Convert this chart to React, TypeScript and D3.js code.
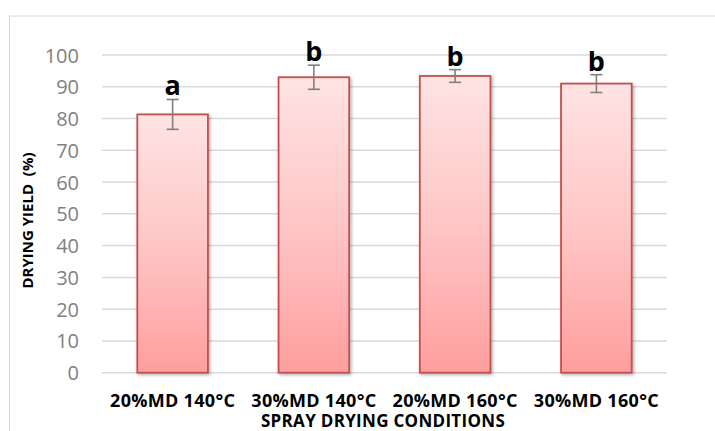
import React from "react";
import * as d3 from "d3";

const categories = ["20%MD 140°C", "30%MD 140°C", "20%MD 160°C", "30%MD 160°C"];
const yieldValues = [81.3, 93.0, 93.4, 91.0];
const errorValues = [4.7, 3.8, 2.0, 2.8];
const groupLetters = ["a", "b", "b", "b"];
const yTicks = [0, 10, 20, 30, 40, 50, 60, 70, 80, 90, 100];

const W = 715;
const H = 431;
const plot = { left: 102, right: 667, top: 55, bottom: 372.7 };
const FONT = "'Open Sans', 'DejaVu Sans', sans-serif";

export default function App() {
  const x = d3
    .scaleBand<string>()
    .domain(categories)
    .range([plot.left, plot.right])
    .paddingInner(0.5)
    .paddingOuter(0.25);
  const y = d3.scaleLinear().domain([0, 100]).range([plot.bottom, plot.top]);

  return (
    <svg
      width={W}
      height={H}
      style={{ position: "absolute", left: 0, top: 0, background: "#fff" }}
    >
      <defs>
        <linearGradient id="barGrad" x1="0" y1="0" x2="0" y2="1">
          <stop offset="0%" stopColor="#ffe3e3" />
          <stop offset="50%" stopColor="#ffc6c6" />
          <stop offset="100%" stopColor="#ff9e9e" />
        </linearGradient>
        <filter id="shadow" x="-20%" y="-10%" width="140%" height="120%">
          <feDropShadow dx="1.5" dy="1.5" stdDeviation="1.5" floodColor="#000" floodOpacity="0.3" />
        </filter>
      </defs>
      <rect x={9.5} y={16} width={W + 10} height={H + 10} fill="#fff" stroke="#d9d9d9" strokeWidth={1} />
      {yTicks.map((t) => (
        <g key={t}>
          <line x1={plot.left} x2={plot.right} y1={y(t)} y2={y(t)} stroke="#d9d9d9" strokeWidth={1.5} />
          <text
            x={79}
            y={y(t)}
            textAnchor="end"
            dominantBaseline="central"
            fontFamily={FONT}
            fontSize={20}
            fill="#808080"
          >
            {t}
          </text>
        </g>
      ))}
      {categories.map((c, i) => {
        const bx = x(c)!;
        const bw = x.bandwidth();
        const cx = bx + bw / 2;
        const v = yieldValues[i];
        const e = errorValues[i];
        return (
          <g key={c}>
            <rect
              x={bx}
              y={y(v)}
              width={bw}
              height={y(0) - y(v)}
              fill="url(#barGrad)"
              stroke="#c0504d"
              strokeWidth={1.8}
              filter="url(#shadow)"
            />
            <line x1={cx} x2={cx} y1={y(v + e)} y2={y(v - e)} stroke="#808080" strokeWidth={1.6} />
            <line x1={cx - 6} x2={cx + 6} y1={y(v + e)} y2={y(v + e)} stroke="#808080" strokeWidth={1.6} />
            <line x1={cx - 6} x2={cx + 6} y1={y(v - e)} y2={y(v - e)} stroke="#808080" strokeWidth={1.6} />
            <text
              x={cx}
              y={y(v + e) - 4}
              textAnchor="middle"
              fontFamily={FONT}
              fontWeight="bold"
              fontSize={27}
              fill="#000"
            >
              {groupLetters[i]}
            </text>
            <text
              x={cx}
              y={406.5}
              textAnchor="middle"
              fontFamily={FONT}
              fontWeight="bold"
              fontSize={18}
              letterSpacing={0.3}
              fill="#000"
            >
              {c}
            </text>
          </g>
        );
      })}
      <text
        x={383}
        y={427}
        textAnchor="middle"
        fontFamily={FONT}
        fontWeight="bold"
        fontSize={17}
        letterSpacing={0.3}
        fill="#000"
      >
        SPRAY DRYING CONDITIONS
      </text>
      <text
        transform={`translate(33, 220.5) rotate(-90)`}
        textAnchor="middle"
        fontFamily={FONT}
        fontWeight="bold"
        fontSize={15}
        fill="#000"
        style={{ whiteSpace: "pre" }}
      >
        {"DRYING YIELD  (%)"}
      </text>
    </svg>
  );
}
